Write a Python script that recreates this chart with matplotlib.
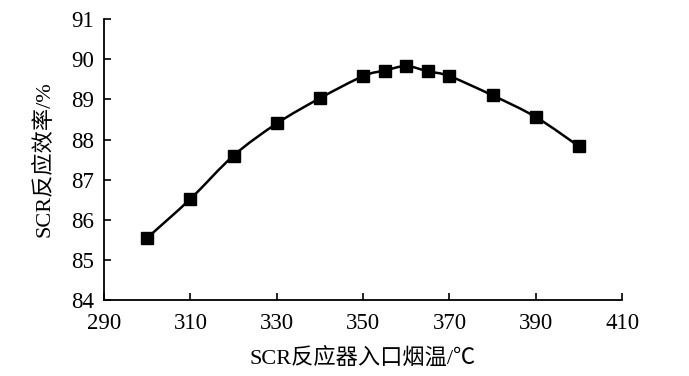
import numpy as np
import matplotlib
matplotlib.use("Agg")
import matplotlib.pyplot as plt
from matplotlib.path import Path
from matplotlib.patches import PathPatch

plt.rcParams['font.family'] = ['Liberation Serif', 'Noto Sans CJK SC', 'DejaVu Sans']

# inlet flue gas temperature (C) and SCR efficiency (%)
temps = [300, 310, 320, 330, 340, 350, 355, 360, 365, 370, 380, 390, 400]
eff = [85.55, 86.52, 87.6, 88.4, 89.03, 89.58, 89.72, 89.83, 89.7, 89.58, 89.1, 88.56, 87.83]

x_ticks = [290, 310, 330, 350, 370, 390, 410]
y_ticks = [84, 85, 86, 87, 88, 89, 90, 91]


def smooth_path(xs, ys):
    # Catmull-Rom segments written as cubic bezier codes for matplotlib Path
    pts = np.column_stack([xs, ys]).astype(float)
    verts = [pts[0]]
    codes = [Path.MOVETO]
    n = len(pts)
    for i in range(n - 1):
        p0 = pts[i - 1] if i > 0 else pts[i]
        p1 = pts[i]
        p2 = pts[i + 1]
        p3 = pts[i + 2] if i + 2 < n else pts[i + 1]
        c1 = p1 + (p2 - p0) / 6.0
        c2 = p2 - (p3 - p1) / 6.0
        verts += [c1, c2, p2]
        codes += [Path.CURVE4] * 3
    return Path(verts, codes)


fig = plt.figure(figsize=(6.89, 3.76), dpi=100)
ax = fig.add_axes([0.151, 0.202, 0.752, 0.747])

ax.add_patch(PathPatch(smooth_path(temps, eff), facecolor='none', edgecolor='black', lw=1.8, zorder=2))
ax.plot(temps, eff, linestyle='none', marker='s', markersize=8.5, color='black', zorder=3)

ax.set_xlim(290, 410)
ax.set_ylim(84, 91)
ax.set_xticks(x_ticks)
ax.set_yticks(y_ticks)
ax.tick_params(direction='in', length=5, width=1.2, labelsize=16.5)
ax.tick_params(axis='x', pad=9)
ax.tick_params(axis='y', pad=7)
ax.spines['top'].set_visible(False)
ax.spines['right'].set_visible(False)
for s in ['left', 'bottom']:
    ax.spines[s].set_linewidth(1.3)

ax.set_xlabel('SCR反应器入口烟温/℃', fontsize=16, labelpad=10)
ax.set_ylabel('SCR反应效率/%', fontsize=16, labelpad=12)

fig.savefig('out.png', dpi=100)
